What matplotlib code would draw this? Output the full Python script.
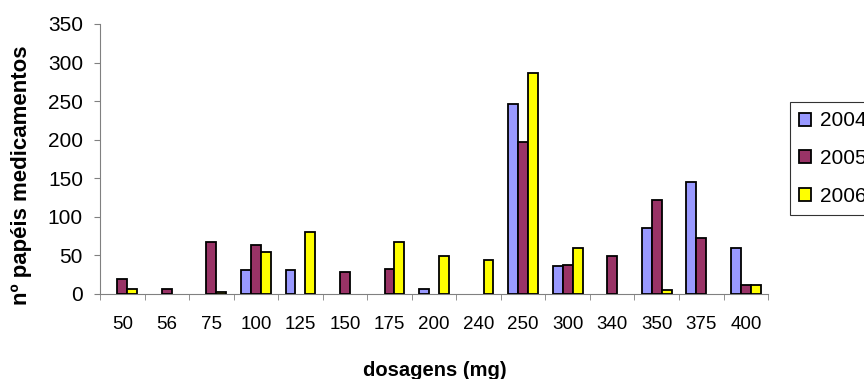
"""Bar chart: number of medication papers per dosage, 2004-2006."""

import numpy as np
import matplotlib
matplotlib.use("Agg")
import matplotlib.pyplot as plt

plt.rcParams["font.family"] = ["Liberation Sans", "DejaVu Sans"]

dosages = ["50", "56", "75", "100", "125", "150", "175", "200",
           "240", "250", "300", "340", "350", "375", "400"]
years = ["2004", "2005", "2006"]
vals_2004 = [0, 0, 0, 31, 31, 0, 0, 7, 0, 246, 36, 0, 85, 145, 59]
vals_2005 = [20, 7, 67, 64, 0, 28, 33, 0, 0, 197, 38, 49, 122, 72, 12]
vals_2006 = [7, 0, 2, 54, 80, 0, 67, 49, 44, 287, 59, 0, 5, 0, 12]
colors = ["#9999FF", "#993366", "#FFFF00"]

fig = plt.figure(figsize=(8.64, 3.79), dpi=100)
ax = fig.add_axes([0.1157, 0.2243, 0.7733, 0.7124])

x = np.arange(len(dosages))
w = 1 / 4.5
for i, (vals, c, lab) in enumerate(zip([vals_2004, vals_2005, vals_2006], colors, years)):
    vals = np.array(vals, dtype=float)
    # zero values are not drawn (Excel style)
    h = np.where(vals > 0, vals, np.nan)
    ax.bar(x + (i - 1) * w, h, width=w, color=c, edgecolor="black",
           linewidth=1.3, label=lab, zorder=3)

ax.set_xlim(-0.5, len(dosages) - 0.5)
ax.set_ylim(0, 350)
ax.set_yticks(range(0, 351, 50))
ax.set_xticks(x)
ax.set_xticklabels(dosages, fontsize=13.5)
ax.set_xticks(np.arange(len(dosages) + 1) - 0.5, minor=True)
ax.tick_params(axis="x", which="major", length=0, pad=16)
ax.tick_params(axis="x", which="minor", length=4, color="#808080")
ax.tick_params(axis="y", length=4.3, color="#808080", labelsize=15, pad=8)

for s in ["top", "right"]:
    ax.spines[s].set_visible(False)
for s in ["left", "bottom"]:
    ax.spines[s].set_color("#808080")

ax.set_xlabel("dosagens (mg)", fontsize=14.5, fontweight="bold", va="center")
ax.xaxis.set_label_coords((435 - 100) / 668, -0.283)
ax.set_ylabel("nº papéis medicamentos", fontsize=16, fontweight="bold", va="center")
ax.yaxis.set_label_coords((22 - 100) / 668, 0.44)

leg = fig.legend(loc="upper left", bbox_to_anchor=(790 / 864, 1 - 102 / 379),
                 fontsize=15, frameon=True, fancybox=False, edgecolor="black",
                 handlelength=0.58, handleheight=0.58, handletextpad=0.4,
                 labelspacing=0.9, borderpad=0.45, borderaxespad=0)
leg.get_frame().set_linewidth(0.8)

fig.savefig("out.png", dpi=100)
